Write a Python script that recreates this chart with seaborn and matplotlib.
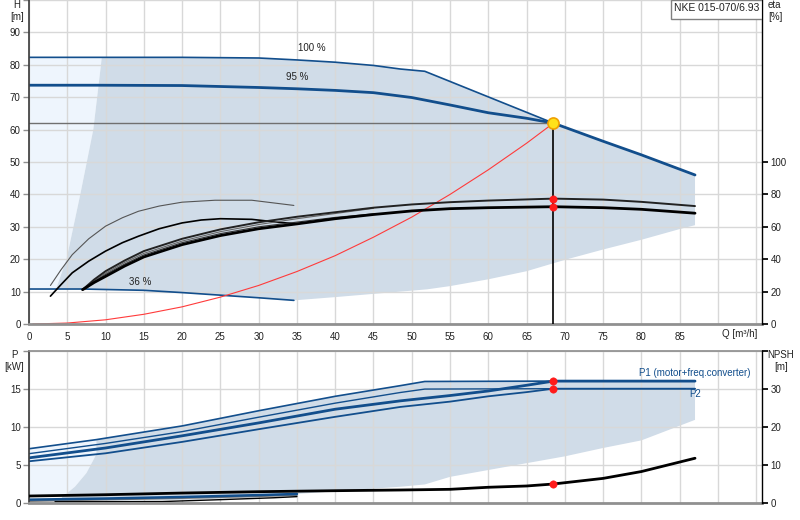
import matplotlib
matplotlib.use("Agg")
import matplotlib.pyplot as plt
import matplotlib.patches as mpatches
import numpy as np
import seaborn as sns

# ---- head curves (H [m] vs Q [m3/h]) ----
Q100 = [0, 9.5, 20, 30, 35, 40, 45, 48.5, 51.7, 68.5]
H100 = [82.3, 82.3, 82.3, 82.1, 81.5, 80.8, 79.8, 78.7, 78.0, 62.0]
Q95 = [0, 9, 20, 30, 35, 40, 45, 50, 55, 60, 65, 68.5, 75, 80, 87]
H95 = [73.7, 73.7, 73.6, 73.0, 72.6, 72.1, 71.4, 69.9, 67.6, 65.2, 63.5, 62.0, 56.4, 52.2, 46.0]
Q36 = [0, 3.5, 7, 15, 20, 25, 30, 34.6]
H36 = [10.8, 10.8, 10.8, 10.4, 9.7, 8.9, 8.1, 7.3]
Q_low = [34.6, 40, 45, 50, 52, 55, 60, 65, 70, 75, 80, 85, 87]
H_low = [7.3, 8.3, 9.3, 10.3, 10.7, 11.7, 13.8, 16.3, 19.8, 23.0, 26.0, 29.3, 30.5]
Q_left = [3.5, 4.9, 6.7, 8.4, 9.4, 9.5]
H_left = [10.6, 20, 40, 60, 80, 82.3]

# system curve
Q_sys = [0.5, 5, 10, 15, 20, 25, 30, 35, 40, 45, 50, 55, 60, 65, 68.5]
H_sys = [0, 0.3, 1.3, 3.0, 5.3, 8.3, 11.9, 16.2, 21.1, 26.8, 33.0, 40.0, 47.6, 55.8, 62.0]

# ---- efficiency curves (eta [%]) ----
Q_eta = [7, 8.5, 10, 12.5, 15, 20, 25, 30, 35, 40, 45, 50, 55, 60, 68.5, 75, 80, 87]
eta_up = [21.2, 27.4, 32.6, 39.2, 45.0, 52.6, 58.4, 62.8, 66.2, 69.0, 71.8, 73.8, 75.2, 76.2,
          77.4, 76.8, 75.4, 72.8]
eta_lo = [21.2, 25.6, 29.4, 35.8, 41.4, 49.0, 54.6, 58.8, 61.8, 65.0, 67.6, 69.8, 71.2, 71.8,
          72.4, 71.8, 70.8, 68.4]
Q_eta_mid = [7.3, 8.5, 10, 12.5, 15, 20, 25, 30, 35, 40, 45]
eta_mid1 = [21.2, 26.6, 31.4, 38.0, 43.6, 51.2, 57.0, 61.4, 65.0, 68.2, 71.4]
eta_mid2 = [21.4, 26.0, 30.6, 37.0, 42.6, 50.2, 55.8, 60.0, 62.9, 65.8, 68.0]
Q_etaA = [2.8, 4.2, 5.65, 7.8, 10, 12.2, 14.3, 17, 20, 24.3, 29.1, 34.6]
eta_A = [23.8, 33.6, 42.8, 52.6, 60.4, 65.6, 69.6, 72.8, 75.2, 76.4, 76.4, 73.2]
Q_etaB = [2.8, 4.2, 5.65, 7.8, 10, 12.2, 14.3, 17, 20, 22.5, 25, 29.1, 32.6, 34.6]
eta_B = [17.2, 24.4, 31.6, 38.8, 45.0, 50.2, 54.2, 58.8, 62.4, 64.2, 65.0, 64.6, 62.8, 62.0]

# duty point
Q_duty = 68.5
H_duty = 62.0
eta_duty = [77.4, 72.2]

# ---- power curves (P [kW]) ----
Q_p1max = [0, 8.8, 20, 30, 40, 48.5, 51.7, 68.5, 87]
P1_max = [7.1, 8.3, 10.1, 12.1, 14.0, 15.4, 15.95, 16.0, 16.0]
Q_p2max = [0, 10, 20, 30, 40, 48.5, 51.7, 68.5, 87]
P2_max = [6.45, 7.8, 9.35, 11.25, 13.1, 14.5, 14.95, 15.0, 15.0]
Q_pop = [0, 10, 20, 30, 40, 48.5, 55, 60, 65, 68.5, 87]
P1_op = [5.9, 7.2, 8.8, 10.5, 12.3, 13.4, 14.1, 14.7, 15.45, 16.0, 16.0]
P2_op = [5.45, 6.5, 8.0, 9.67, 11.3, 12.6, 13.3, 14.0, 14.55, 15.0, 15.0]
Q_pleft = [4.3, 4.9, 6.0, 7.5, 8.4, 8.8]
P_pleft = [0.8, 1.2, 2.1, 3.9, 5.6, 6.4]
Q_plow = [87, 80, 75, 70, 65, 60, 55, 51.7, 48.5, 35, 35, 20, 4.3]
P_plow = [10.9, 8.2, 7.2, 6.1, 5.2, 4.3, 3.4, 2.4, 2.1, 1.15, 0.9, 0.35, 0.2]
Q_small = [0, 10, 20, 30, 35]
P_small_blue = [0.4, 0.55, 0.75, 1.0, 1.15]
P_small_gray = [0.2, 0.4, 0.6, 0.85, 1.0]
Q_small_blk = [3.4, 10, 17.4, 25, 32, 35]
P_small_blk = [0.13, 0.13, 0.15, 0.4, 0.65, 0.8]
P_duty = [16.0, 15.0]

# NPSH [m]
Q_npsh = [0, 10, 20, 30, 40, 48.5, 55, 60, 65, 68.5, 75, 80, 87]
NPSH = [1.76, 2.1, 2.54, 2.9, 3.16, 3.34, 3.52, 4.06, 4.4, 4.92, 6.4, 8.2, 11.7]
NPSH_duty = 4.92

BLUE = "#124e8c"
DARK = "#d0dce8"
LIGHT = "#eef5fd"
GRID = "#d8d8d8"
DOT = "#ff1a1a"

sns.set_theme(style="white")
plt.rcParams["font.family"] = ["Liberation Sans", "DejaVu Sans"]
plt.rcParams["font.size"] = 7


def style_axes(ax, top_spine=True):
    ax.set_axisbelow(True)
    ax.grid(True, color=GRID, linewidth=1)
    ax.spines["left"].set_color("#404040")
    ax.spines["bottom"].set_color("#909090")
    ax.spines["bottom"].set_linewidth(2)
    ax.spines["right"].set_visible(False)
    ax.spines["top"].set_visible(top_spine)
    ax.spines["top"].set_color("#909090")
    ax.tick_params(axis="both", direction="out", length=4, width=1, color="#909090",
                   labelsize=7, pad=2, labelcolor="#222222")
    ax.set_xlim(0, 95.75)
    ax.set_xticks(np.arange(0, 96, 5))
    ax.set_xlabel("")
    ax.set_ylabel("")


def style_right(axr):
    axr.set_ylabel("")
    for s in ["left", "top", "bottom"]:
        axr.spines[s].set_visible(False)
    axr.spines["right"].set_color("black")
    axr.spines["right"].set_linewidth(1)
    axr.tick_params(axis="y", direction="out", length=4, color="black", labelsize=7, pad=2,
                    labelcolor="#222222")


def line(axx, x, y, color, lw):
    sns.lineplot(x=x, y=y, ax=axx, color=color, linewidth=lw, sort=False, estimator=None)


fig = plt.figure(figsize=(8, 5.2), dpi=100)
ax = fig.add_axes([0.03625, 0.3769, 0.91625, 0.6231])
axb = fig.add_axes([0.03625, 0.03327, 0.91625, 0.2923])

# ---------- top panel ----------
lq = [0] + Q_left + [0]
lh = [H36[0]] + H_left + [H100[0]]
ax.fill(lq, lh, color=LIGHT, zorder=0.3, lw=0)

top_q = [q for q in Q100 if q > 9.5] + [q for q in Q95 if q > Q_duty]
top_h = [h for q, h in zip(Q100, H100) if q > 9.5] + [h for q, h in zip(Q95, H95) if q > Q_duty]
bot_q = Q_low[::-1] + [q for q in Q36[::-1] if 3.5 <= q < 34.6]
bot_h = H_low[::-1] + [h for q, h in zip(Q36[::-1], H36[::-1]) if 3.5 <= q < 34.6]
ax.fill(Q_left + top_q + bot_q, H_left + top_h + bot_h, color=DARK, zorder=0.35, lw=0)

line(ax, Q100, H100, BLUE, 1.2)
line(ax, Q95, H95, BLUE, 2)
line(ax, Q36, H36, BLUE, 1.2)
line(ax, Q_sys, H_sys, "#ff3b3b", 0.8)
ax.plot([0, Q_duty], [H_duty, H_duty], color="#707070", lw=1, zorder=2)
ax.plot([Q_duty, Q_duty], [0, H_duty], color="black", lw=1.2, zorder=4)

ax.text(36.9, 85.1, "100 %", ha="center", va="center", fontsize=7, color="#222222")
ax.text(35, 76.3, "95 %", ha="center", va="center", fontsize=7, color="#222222")
ax.text(14.5, 13, "36 %", ha="center", va="center", fontsize=7, color="#222222")

style_axes(ax, top_spine=False)
ax.set_ylim(0, 100)
ax.set_yticks(np.arange(0, 101, 10))
ax.set_yticklabels([str(v) for v in range(0, 91, 10)] + [""])
ax.set_xticklabels([str(v) for v in range(0, 86, 5)] + ["", ""])
ax.text(92.9, -0.032, "Q [m³/h]", transform=ax.get_xaxis_transform(),
        ha="center", va="center", fontsize=7, color="#222222")

axe = ax.twinx()
line(axe, Q_etaA, eta_A, "#555555", 0.8)
line(axe, Q_etaB, eta_B, "black", 1.2)
line(axe, Q_eta_mid, eta_mid1, "#666666", 0.8)
line(axe, Q_eta_mid, eta_mid2, "#333333", 0.8)
line(axe, Q_eta, eta_up, "#222222", 1.4)
line(axe, Q_eta, eta_lo, "black", 2)
sns.scatterplot(x=[Q_duty, Q_duty], y=eta_duty, ax=axe, color=DOT, s=28,
                edgecolor=DOT, zorder=5)
axe.set_ylim(0, 200)
axe.set_yticks(np.arange(0, 101, 20))
style_right(axe)
axe.plot([Q_duty], [H_duty * 2], "o", ms=8, mfc="#ffe21a", mec="#f0a000", mew=1.2, zorder=6)

axe.add_patch(mpatches.Rectangle((0.8754, 0.9414), 0.1246, 0.0586, transform=ax.transAxes,
                                 fc="white", ec="#808080", lw=1, zorder=7))
axe.text(0.9386, 0.975, "NKE 015-070/6.93", transform=ax.transAxes, ha="center", va="center",
         fontsize=7.5, color="#222222", zorder=8)

# ---------- bottom panel ----------
blq = [0] + Q_pleft + [Q_p1max[1], 0]
blp = [P_pleft[0]] + P_pleft + [P1_max[1], P1_max[0]]
axb.fill(blq, blp, color=LIGHT, zorder=0.3, lw=0)
dq = Q_pleft + [q for q in Q_p1max if q >= 8.8] + Q_plow
dp = P_pleft + [p for q, p in zip(Q_p1max, P1_max) if q >= 8.8] + P_plow
axb.fill(dq, dp, color=DARK, zorder=0.35, lw=0)

line(axb, Q_p1max, P1_max, BLUE, 1.2)
line(axb, Q_p2max, P2_max, BLUE, 1)
line(axb, Q_pop, P1_op, BLUE, 2)
line(axb, Q_pop, P2_op, BLUE, 1.3)
line(axb, Q_small, P_small_gray, "#777777", 1.2)
line(axb, Q_small, P_small_blue, BLUE, 1.8)
line(axb, Q_small_blk, P_small_blk, "black", 1)
sns.scatterplot(x=[Q_duty, Q_duty], y=P_duty, ax=axb, color=DOT, s=28,
                edgecolor=DOT, zorder=5)
axb.text(87, 17.1, "P1 (motor+freq.converter)", ha="center", va="center", fontsize=7, color=BLUE)
axb.text(87, 14.3, "P2", ha="center", va="center", fontsize=7, color=BLUE)

style_axes(axb, top_spine=True)
axb.set_ylim(0, 20)
axb.set_yticks(np.arange(0, 21, 5))
axb.set_yticklabels(["0", "5", "10", "15", ""])
axb.set_xticklabels([])

axn = axb.twinx()
line(axn, Q_npsh, NPSH, "black", 2)
sns.scatterplot(x=[Q_duty], y=[NPSH_duty], ax=axn, color=DOT, s=28,
                edgecolor=DOT, zorder=5)
axn.set_ylim(0, 40)
axn.set_yticks(np.arange(0, 41, 10))
axn.set_yticklabels(["0", "10", "20", "30", ""])
style_right(axn)


# axis titles
def ftext(x, y, s, ha="center"):
    fig.text(x / 800, 1 - y / 520, s, ha=ha, va="center", fontsize=7, color="#222222")


ftext(17, 5, "H")
ftext(17, 17, "[m]")
ftext(768, 5, "eta", ha="left")
ftext(768, 16.5, "[%]", ha="left")
ftext(14, 355, "P")
ftext(14, 367, "[kW]")
ftext(781, 355, "NPSH")
ftext(781, 367, "[m]")

fig.savefig("out.png", dpi=100)
